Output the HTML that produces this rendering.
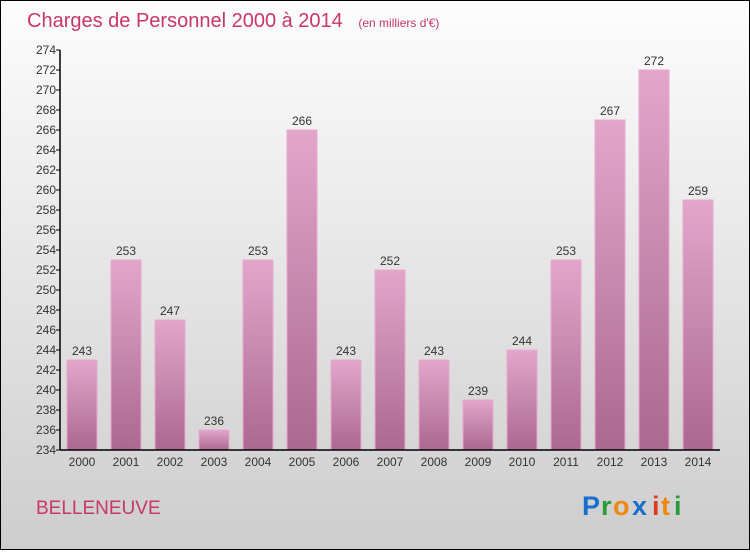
<!DOCTYPE html>
<html><head><meta charset="utf-8"><style>
html,body{margin:0;padding:0;}
body{width:750px;height:550px;overflow:hidden;font-family:"Liberation Sans",sans-serif;}
</style></head><body>
<svg id="chart" width="750" height="550" xmlns="http://www.w3.org/2000/svg">
<defs>
<linearGradient id="bg" x1="0" y1="0" x2="0" y2="1"><stop offset="0" stop-color="#fdfdfd"/><stop offset="1" stop-color="#cdcdcd"/></linearGradient>
<linearGradient id="bar" x1="0" y1="0" x2="0" y2="1"><stop offset="0" stop-color="#e3a6cb"/><stop offset="1" stop-color="#ab6890"/></linearGradient>
</defs>
<rect x="0.5" y="0.5" width="749" height="549" fill="url(#bg)" stroke="#000"/>
<text x="27" y="27" font-size="20" fill="#c8366a">Charges de Personnel 2000 à 2014 <tspan font-size="12" dx="10">(en milliers d'€)</tspan></text>
<g id="bars"></g>
<g id="axes"></g>
<text x="36" y="514" font-size="19" fill="#c8366a">BELLENEUVE</text>
<g font-size="27" font-weight="bold" font-family="'Liberation Sans',sans-serif">
<text x="582" y="515" fill="#1a6fcc">P</text><text x="601" y="515" fill="#2a9a3a">r</text><text x="613" y="515" fill="#f0880f">o</text><text x="632" y="515" fill="#1a6fcc">x</text><text x="652" y="515" fill="#e03a1a">i</text><text x="661" y="515" fill="#f0880f">t</text><text x="674" y="515" fill="#2a9a3a">i</text>
</g>
</svg>
<script>
const categories=["2000","2001","2002","2003","2004","2005","2006","2007","2008","2009","2010","2011","2012","2013","2014"];
const values=[243,253,247,236,253,266,243,252,243,239,244,253,267,272,259];
const yTicks=[234,236,238,240,242,244,246,248,250,252,254,256,258,260,262,264,266,268,270,272,274];
const NS="http://www.w3.org/2000/svg";
const yMin=234,yMax=274,plotTop=50,plotBottom=450,plotLeft=60;
function yScale(v){return plotBottom-(v-yMin)/(yMax-yMin)*(plotBottom-plotTop);}
function xScale(i){return 82+i*44;}
const barsG=document.getElementById('bars'),axesG=document.getElementById('axes');
function mk(tag,attrs,parent){const e=document.createElementNS(NS,tag);for(const k in attrs)e.setAttribute(k,attrs[k]);parent.appendChild(e);return e;}
values.forEach((v,i)=>{
 const r=mk('rect',{x:xScale(i)-15,y:yScale(v),width:30,height:plotBottom-yScale(v),fill:'url(#bar)',stroke:'#e8a8cf','stroke-width':1},barsG);
 
 
 const t=mk('text',{x:xScale(i),y:yScale(v)-5,'text-anchor':'middle','font-size':12,fill:'#333'},barsG);
 
 
 t.textContent=v;
 const c=mk('text',{x:xScale(i),y:466,'text-anchor':'middle','font-size':12,fill:'#333'},axesG);
 
 
 c.textContent=categories[i];
});
yTicks.forEach(v=>{
 const l=mk('line',{x1:plotLeft-4,x2:plotLeft,y1:yScale(v),y2:yScale(v),stroke:'#000'},axesG);
 
 
 const t=mk('text',{x:plotLeft-4,y:yScale(v)+4,'text-anchor':'end','font-size':12,fill:'#333'},axesG);
 
 
 t.textContent=v;
});
const ya=mk('line',{x1:plotLeft,x2:plotLeft,y1:plotTop,y2:plotBottom,stroke:'#000','stroke-width':1.5},axesG);


const xa=mk('line',{x1:plotLeft,x2:720,y1:plotBottom,y2:plotBottom,stroke:'#000','stroke-width':1.5},axesG);


</script>
</body></html>
